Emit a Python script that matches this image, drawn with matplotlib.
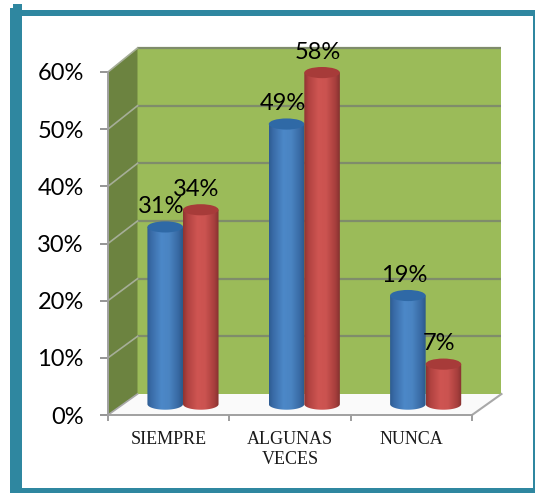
import numpy as np
import matplotlib
matplotlib.use("Agg")
import matplotlib.pyplot as plt
from matplotlib.colors import LinearSegmentedColormap
from matplotlib.patches import Ellipse, Polygon, Rectangle
from matplotlib.path import Path
from matplotlib.transforms import ScaledTranslation

categories = ["SIEMPRE", "ALGUNAS\nVECES", "NUNCA"]
series_blue = [31, 49, 19]
series_red = [34, 58, 7]
y_ticks = [0, 10, 20, 30, 40, 50, 60]
y_labels = ["0%", "10%", "20%", "30%", "40%", "50%", "60%"]

W, H = 535, 493
fig = plt.figure(figsize=(W / 100, H / 100), dpi=100, facecolor="white")
TEAL = "#2F87A0"


def fig_rect(x0, y0, x1, y1):
    fig.patches.append(Rectangle((x0 / W, 1 - y1 / H), (x1 - x0) / W, (y1 - y0) / H,
                                 transform=fig.transFigure, facecolor=TEAL, edgecolor="none"))


fig_rect(14, 10, 535, 16)
fig_rect(10, 8, 22, 493)
fig_rect(13, 4.5, 22, 10)
fig_rect(10, 488, 535, 493)
fig_rect(533, 10, 535, 493)

ax = fig.add_axes([108 / W, 1 - 415 / H, 364 / W, 343 / H])
ax.patch.set_visible(False)

DX = 0.243
DY = 3.67
PERSP = 1.0087
TOPV = 60


def by(v):
    return DY + PERSP * v


ax.add_patch(Polygon([(DX, by(0)), (3 + DX, by(0)), (3 + DX, by(TOPV)), (DX, by(TOPV))],
                     closed=True, facecolor="#9BBB59", edgecolor="none", clip_on=False, zorder=1))
ax.add_patch(Polygon([(0, 0), (DX, by(0)), (DX, by(TOPV)), (0, TOPV)],
                     closed=True, facecolor="#6C8340", edgecolor="none", clip_on=False, zorder=1))
ax.add_patch(Polygon([(0, 0), (3, 0), (3 + DX, by(0)), (DX, by(0))],
                     closed=True, facecolor="#FAFAFA", edgecolor="none", clip_on=False, zorder=1))

for v in y_ticks[1:]:
    ax.plot([DX, 3 + DX], [by(v), by(v)], color="#7F8C6B", lw=1.6, clip_on=False, zorder=2,
            solid_capstyle="butt")
    ax.plot([0, DX], [v, by(v)], color="#A6AE98", lw=1.2, clip_on=False, zorder=2)
ax.plot([3, 3 + DX], [0, by(0)], color="#A8A8A8", lw=1.5, clip_on=False, zorder=2)
ax.plot([0, DX], [0, by(0)], color="#A8A8A8", lw=1.2, clip_on=False, zorder=2)

cm_blue = LinearSegmentedColormap.from_list(
    "b", [(0, "#2E5C92"), (0.12, "#3A6CA8"), (0.4, "#4C88C8"), (0.62, "#4A84C2"),
          (0.88, "#3768A2"), (1, "#2C5888")])
cm_red = LinearSegmentedColormap.from_list(
    "r", [(0, "#8E3431"), (0.12, "#B04240"), (0.4, "#CF5552"), (0.62, "#CB5350"),
          (0.88, "#A63E3C"), (1, "#843230")])
grad = np.linspace(0, 1, 128).reshape(1, -1)

BASE = 1.9
BW = 0.293
EH = 1.95
CENTER_SHIFT = 0.618


def cylinder(cx, value, cmap, top_color, z):
    top = BASE + value
    t = np.linspace(np.pi, 2 * np.pi, 40)
    pts = list(zip(cx + BW / 2 * np.cos(t), BASE + EH / 2 * np.sin(t)))
    pts += [(cx + BW / 2, top), (cx - BW / 2, top), pts[0]]
    path = Path(pts)
    im = ax.imshow(grad, cmap=cmap, aspect="auto", zorder=z, clip_on=True,
                   extent=(cx - BW / 2, cx + BW / 2, BASE - EH, top))
    im.set_clip_path(path, ax.transData)
    ax.add_patch(Ellipse((cx, top), BW, EH, facecolor=top_color, edgecolor="none",
                         zorder=z + 0.1, clip_on=False))
    return top


for i, (b, r) in enumerate(zip(series_blue, series_red)):
    xb = i + CENTER_SHIFT - BW / 2
    xr = i + CENTER_SHIFT + BW / 2
    tb = cylinder(xb, b, cm_blue, "#2F69A6", 3 + i)
    tr = cylinder(xr, r, cm_red, "#A73B39", 3.4 + i)
    for x, t, v in ((xb, tb, b), (xr, tr, r)):
        ax.annotate(f"{v}%", (x, t), xytext=(-3, 14.5), textcoords="offset points",
                    ha="center", va="center", fontsize=17, family="Lato",
                    color="#000000", zorder=10, annotation_clip=False)

ax.set_xlim(0, 3)
ax.set_ylim(0, 60)
ax.set_yticks(y_ticks)
ax.set_yticklabels(y_labels, family="Lato", fontsize=17, color="#000000")
shift = ScaledTranslation(0, -1.5 / 72, fig.dpi_scale_trans)
for lab in ax.get_yticklabels():
    lab.set_transform(lab.get_transform() + shift)
ax.set_xticks([0, 1, 2, 3])
ax.set_xticklabels([])
ax.set_xticks([0.5, 1.5, 2.5], minor=True)
ax.set_xticklabels(categories, minor=True, family="Liberation Serif", fontsize=13,
                   color="#1A1A1A", linespacing=1.2)
ax.tick_params(axis="y", length=5.8, width=1.3, color="#8C8C8C", pad=11.7)
ax.tick_params(axis="x", which="major", length=4, width=1.2, color="#8C8C8C")
ax.tick_params(axis="x", which="minor", length=0, pad=11.5)
for s in ("top", "right"):
    ax.spines[s].set_visible(False)
for s in ("left", "bottom"):
    ax.spines[s].set_color("#A0A0A0")
    ax.spines[s].set_linewidth(1.4)
    ax.spines[s].set_zorder(2.5)

fig.savefig("out.png", dpi=100, facecolor="white")
